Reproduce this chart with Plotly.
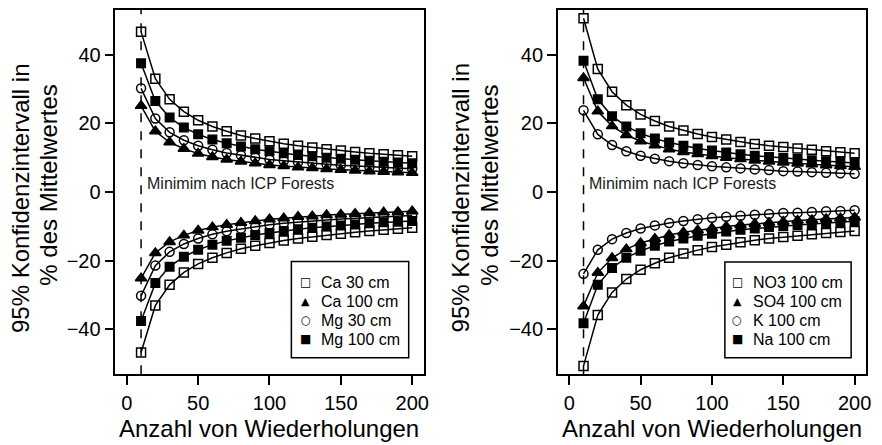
import plotly.graph_objects as go

# ---------------- data ----------------
n_reps = [10, 20, 30, 40, 50, 60, 70, 80, 90, 100,
          110, 120, 130, 140, 150, 160, 170, 180, 190, 200]
x_ticks = [0, 50, 100, 150, 200]
y_ticks = [-40, -20, 0, 20, 40]
icp_min = 10

# left panel
ca30_upper = [46.7, 33.0, 27.0, 23.4, 20.9, 19.1, 17.7, 16.5, 15.6, 14.8,
              14.1, 13.5, 13.0, 12.5, 12.1, 11.7, 11.3, 11.0, 10.7, 10.4]
ca30_lower = [-46.7, -33.0, -27.0, -23.4, -20.9, -19.1, -17.7, -16.5, -15.6, -14.8,
              -14.1, -13.5, -13.0, -12.5, -12.1, -11.7, -11.3, -11.0, -10.7, -10.4]
ca100_upper = [25.1, 17.7, 14.5, 12.6, 11.2, 10.2, 9.5, 8.9, 8.4, 7.9,
               7.6, 7.2, 7.0, 6.7, 6.5, 6.3, 6.1, 5.9, 5.8, 5.6]
ca100_lower = [-25.1, -17.7, -14.5, -12.6, -11.2, -10.2, -9.5, -8.9, -8.4, -7.9,
               -7.6, -7.2, -7.0, -6.7, -6.5, -6.3, -6.1, -5.9, -5.8, -5.6]
mg30_upper = [30.2, 21.4, 17.4, 15.1, 13.5, 12.3, 11.4, 10.7, 10.1, 9.5,
              9.1, 8.7, 8.4, 8.1, 7.8, 7.6, 7.3, 7.1, 6.9, 6.8]
mg30_lower = [-30.2, -21.4, -17.4, -15.1, -13.5, -12.3, -11.4, -10.7, -10.1, -9.5,
              -9.1, -8.7, -8.4, -8.1, -7.8, -7.6, -7.3, -7.1, -6.9, -6.8]
mg100_upper = [37.5, 26.5, 21.7, 18.8, 16.8, 15.3, 14.2, 13.3, 12.5, 11.9,
               11.3, 10.8, 10.4, 10.0, 9.7, 9.4, 9.1, 8.8, 8.6, 8.4]
mg100_lower = [-37.5, -26.5, -21.7, -18.8, -16.8, -15.3, -14.2, -13.3, -12.5, -11.9,
               -11.3, -10.8, -10.4, -10.0, -9.7, -9.4, -9.1, -8.8, -8.6, -8.4]

# right panel
no3_upper = [50.6, 35.8, 29.2, 25.3, 22.6, 20.7, 19.1, 17.9, 16.9, 16.0,
             15.3, 14.6, 14.0, 13.5, 13.1, 12.7, 12.3, 11.9, 11.6, 11.3]
no3_lower = [-50.6, -35.8, -29.2, -25.3, -22.6, -20.7, -19.1, -17.9, -16.9, -16.0,
             -15.3, -14.6, -14.0, -13.5, -13.1, -12.7, -12.3, -11.9, -11.6, -11.3]
so4_upper = [33.2, 23.5, 19.2, 16.6, 14.8, 13.6, 12.5, 11.7, 11.1, 10.5,
             10.0, 9.6, 9.2, 8.9, 8.6, 8.3, 8.1, 7.8, 7.6, 7.4]
so4_lower = [-33.2, -23.5, -19.2, -16.6, -14.8, -13.6, -12.5, -11.7, -11.1, -10.5,
             -10.0, -9.6, -9.2, -8.9, -8.6, -8.3, -8.1, -7.8, -7.6, -7.4]
k_upper = [23.8, 16.8, 13.7, 11.9, 10.6, 9.7, 9.0, 8.4, 7.9, 7.5,
           7.2, 6.9, 6.6, 6.4, 6.1, 6.0, 5.8, 5.6, 5.5, 5.3]
k_lower = [-23.8, -16.8, -13.7, -11.9, -10.6, -9.7, -9.0, -8.4, -7.9, -7.5,
           -7.2, -6.9, -6.6, -6.4, -6.1, -6.0, -5.8, -5.6, -5.5, -5.3]
na_upper = [38.2, 27.0, 22.1, 19.1, 17.1, 15.6, 14.4, 13.5, 12.7, 12.1,
            11.5, 11.0, 10.6, 10.2, 9.9, 9.6, 9.3, 9.0, 8.8, 8.5]
na_lower = [-38.2, -27.0, -22.1, -19.1, -17.1, -15.6, -14.4, -13.5, -12.7, -12.1,
            -11.5, -11.0, -10.6, -10.2, -9.9, -9.6, -9.3, -9.0, -8.8, -8.5]

left_names = ["Ca 30 cm", "Ca 100 cm", "Mg 30 cm", "Mg 100 cm"]
right_names = ["NO3 100 cm", "SO4 100 cm", "K 100 cm", "Na 100 cm"]
left_series = [(ca30_upper, ca30_lower), (ca100_upper, ca100_lower),
               (mg30_upper, mg30_lower), (mg100_upper, mg100_lower)]
right_series = [(no3_upper, no3_lower), (so4_upper, so4_lower),
                (k_upper, k_lower), (na_upper, na_lower)]

# ---------------- styling ----------------
# the page adds an 8 px body margin, so the figure is 8 px smaller and
# reference pixel positions are shifted by that offset
OFF = 8
W, H = 882 - OFF, 445 - OFF
FONT = "Liberation Sans, Arial, Helvetica, sans-serif"
SYMBOLS = ["square-open", "triangle-up", "circle-open", "square"]
SIZES = [9, 10, 9, 8.5]
LEGEND_GLYPHS = ["\u25A1", "\u25B2", "\u25CB", "\u25A0"]
LEGEND_GLYPH_SIZES = [12, 11, 11.5, 12]


def px_x(p):
    return (p - OFF) / W


def px_y(p):
    return (H - (p - OFF)) / H


fig = go.Figure()

for axis_idx, (names, series) in enumerate([(left_names, left_series),
                                            (right_names, right_series)]):
    xa = "x" if axis_idx == 0 else "x2"
    ya = "y" if axis_idx == 0 else "y2"
    for name, (up, lo), sym, sz in zip(names, series, SYMBOLS, SIZES):
        for vals in (up, lo):
            fig.add_trace(go.Scatter(
                x=n_reps, y=vals, name=name, mode="lines+markers",
                xaxis=xa, yaxis=ya, showlegend=False,
                line=dict(color="black", width=1.5),
                marker=dict(symbol=sym, size=sz, color="black",
                            line=dict(color="black", width=1.5)),
            ))

axis_common = dict(
    showgrid=False, zeroline=False, showline=True, mirror=True,
    linecolor="black", linewidth=1.5, ticks="outside", ticklen=9,
    tickwidth=1.5, tickcolor="black",
    tickfont=dict(family=FONT, size=20, color="black"),
)

y_dom = [px_y(374), px_y(9)]
fig.update_layout(
    width=W, height=H,
    margin=dict(l=0, r=0, t=0, b=0),
    paper_bgcolor="white", plot_bgcolor="white",
    showlegend=False,
    xaxis=dict(domain=[px_x(116), px_x(426)], range=[-8, 208],
               tickvals=x_ticks, anchor="y", ticklabelstandoff=1, **axis_common),
    yaxis=dict(domain=y_dom, range=[-53, 53], tickvals=y_ticks,
               anchor="x", ticklabelstandoff=0, **axis_common),
    xaxis2=dict(domain=[px_x(561), px_x(871)], range=[-8, 208],
                tickvals=x_ticks, anchor="y2", ticklabelstandoff=1, **axis_common),
    yaxis2=dict(domain=y_dom, range=[-53, 53], tickvals=y_ticks,
                anchor="x2", ticklabelstandoff=0, **axis_common),
)

shapes = []
annotations = []

# dashed line at the ICP Forests minimum
for xr, yr in (("x", "y domain"), ("x2", "y2 domain")):
    shapes.append(dict(type="line", xref=xr, yref=yr, x0=icp_min, x1=icp_min,
                       y0=0, y1=1, line=dict(color="black", width=1.5, dash="dash")))

# "Minimim nach ICP Forests" labels
for xpix in (146, 590):
    annotations.append(dict(text="Minimim nach ICP Forests", x=px_x(xpix), y=px_y(183),
                            xref="paper", yref="paper", xanchor="left", yanchor="middle",
                            showarrow=False, font=dict(family=FONT, size=16, color="#1a1a1a")))

# axis titles
for xc in (271, 716):
    annotations.append(dict(text="Anzahl von Wiederholungen", x=px_x(xc), y=px_y(428),
                            xref="paper", yref="paper", xanchor="center", yanchor="middle",
                            showarrow=False, font=dict(family=FONT, size=24, color="black")))
for (x1, y1, x2, y2) in ((20.5, 197, 49.3, 185), (463.5, 197, 492, 185)):
    annotations.append(dict(text="95% Konfidenzintervall in", x=px_x(x1), y=px_y(y1),
                            xref="paper", yref="paper", xanchor="center", yanchor="middle",
                            textangle=-90, showarrow=False,
                            font=dict(family=FONT, size=24, color="black")))
    annotations.append(dict(text="% des Mittelwertes", x=px_x(x2), y=px_y(y2),
                            xref="paper", yref="paper", xanchor="center", yanchor="middle",
                            textangle=-90, showarrow=False,
                            font=dict(family=FONT, size=24, color="black")))

# legends (boxed, symbol + label)
legend_boxes = [((293, 411, 261, 357.5), 307.5, 320.5, left_names),
                ((729, 856, 261.5, 357.5), 741.5, 755, right_names)]
entry_y = [282, 301, 320, 339]
for (bx0, bx1, by0, by1), sym_x, txt_x, names in legend_boxes:
    shapes.append(dict(type="rect", xref="paper", yref="paper",
                       x0=px_x(bx0), x1=px_x(bx1), y0=px_y(by1), y1=px_y(by0),
                       line=dict(color="black", width=1.5), fillcolor="white"))
    for name, ey, glyph, gs in zip(names, entry_y, LEGEND_GLYPHS, LEGEND_GLYPH_SIZES):
        annotations.append(dict(text=glyph, x=px_x(sym_x), y=px_y(ey),
                                xref="paper", yref="paper", xanchor="center",
                                yanchor="middle", showarrow=False,
                                font=dict(family="DejaVu Sans", size=gs, color="black")))
        annotations.append(dict(text=name, x=px_x(txt_x), y=px_y(ey),
                                xref="paper", yref="paper", xanchor="left",
                                yanchor="middle", showarrow=False,
                                font=dict(family=FONT, size=16, color="black")))

fig.update_layout(shapes=shapes, annotations=annotations)
fig.write_html("out.html")
